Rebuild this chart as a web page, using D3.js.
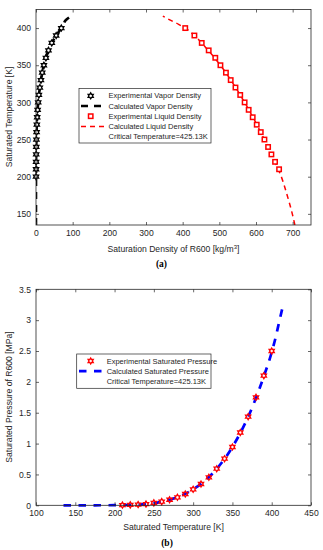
<!DOCTYPE html>
<html>
<head>
<meta charset="utf-8">
<script src="https://cdn.jsdelivr.net/npm/d3@7"></script>
<style>
  body { margin: 0; background: #fff; }
  svg { display: block; font-family: "Liberation Sans", Arial, sans-serif; }
</style>
</head>
<body>
<script>
const width = 323;
const height = 550;
const axisColor = "#262626";

// (a) saturation density
const vaporExpT = [200, 210, 220, 230, 240, 250, 260, 270, 280, 290, 300, 310, 320, 330, 340, 350, 360, 370, 380, 390, 400];
const vaporExpRho = [0.1, 0.2, 0.3, 0.5, 0.7, 1.1, 1.6, 2.3, 3.2, 4.4, 6.0, 7.9, 10.5, 13.5, 17, 21.5, 27, 34, 43, 55, 69];
const liquidExpT = [210, 220, 230, 240, 250, 260, 270, 280, 290, 300, 310, 320, 330, 340, 350, 360, 370, 380, 390, 400];
const liquidExpRho = [663, 652, 642, 633, 623, 613, 602, 591, 580, 569, 557, 544, 531, 518, 503, 489, 471, 452, 432, 407];
const calcT = [135, 150, 175, 200, 225, 250, 275, 300, 325, 350, 375, 390, 400, 405, 410, 416];
const vaporCalcRho = [0, 0, 0.02, 0.1, 0.4, 1.1, 2.5, 6.0, 12, 21.5, 38, 55, 69, 75, 80, 95];
const liquidCalcRho = [706, 699, 685, 669, 647, 623, 597, 569, 538, 503, 461, 432, 407, 389, 369, 346];
const densityTicks = [0, 100, 200, 300, 400, 500, 600, 700];
const tempTicksA = [150, 200, 250, 300, 350, 400];
const legendA = ["Experimental Vapor Density", "Calculated Vapor Density", "Experimental Liquid Density", "Calculated Liquid Density", "Critical Temperature=425.13K"];

// (b) saturated pressure
const presExpT = [210, 220, 230, 240, 250, 260, 270, 280, 290, 300, 310, 320, 330, 340, 350, 360, 370, 380, 390, 400];
const presExpP = [0.004, 0.007, 0.012, 0.02, 0.039, 0.06, 0.09, 0.13, 0.183, 0.259, 0.345, 0.454, 0.593, 0.755, 0.945, 1.18, 1.436, 1.75, 2.1, 2.5];
const presCalcT = [135, 150, 175, 200, 220, 240, 250, 260, 275, 300, 325, 350, 375, 390, 400, 405, 410, 415];
const presCalcP = [0, 0.0001, 0.0004, 0.002, 0.007, 0.02, 0.035, 0.058, 0.11, 0.258, 0.52, 0.945, 1.58, 2.09, 2.48, 2.72, 3.0, 3.27];
const tempTicksB = [100, 150, 200, 250, 300, 350, 400, 450];
const presTicks = [0, 0.5, 1, 1.5, 2, 2.5, 3, 3.5];
const legendB = ["Experimental Saturated Pressure", "Calculated Saturated Pressure", "Critical Temperature=425.13K"];

const svg = d3.select("body").append("svg")
  .attr("width", width)
  .attr("height", height);

// six-pointed star (MATLAB hexagram)
function hexagram(r) {
  const pts = [];
  for (let i = 0; i < 12; i++) {
    const a = -Math.PI / 2 + i * Math.PI / 6;
    const rr = i % 2 === 0 ? r : r / Math.sqrt(3);
    pts.push([rr * Math.cos(a), rr * Math.sin(a)]);
  }
  return "M" + pts.map(p => p[0].toFixed(2) + "," + p[1].toFixed(2)).join("L") + "Z";
}

function drawFrame(g, x, y, xTicks, yTicks, fmtX, fmtY) {
  const [x0, x1] = x.range();
  const [y0, y1] = y.range();
  g.append("g").attr("transform", `translate(0,${y0})`)
    .call(d3.axisBottom(x).tickValues(xTicks).tickSizeInner(-3).tickSizeOuter(0).tickPadding(5).tickFormat(fmtX));
  g.append("g").attr("transform", `translate(0,${y1})`)
    .call(d3.axisTop(x).tickValues(xTicks).tickSizeInner(-3).tickSizeOuter(0).tickFormat(""));
  g.append("g").attr("transform", `translate(${x0},0)`)
    .call(d3.axisLeft(y).tickValues(yTicks).tickSizeInner(-3).tickSizeOuter(0).tickPadding(5).tickFormat(fmtY));
  g.append("g").attr("transform", `translate(${x1},0)`)
    .call(d3.axisRight(y).tickValues(yTicks).tickSizeInner(-3).tickSizeOuter(0).tickFormat(""));
  g.selectAll(".domain").remove();
  g.selectAll(".tick line").attr("stroke", axisColor).attr("stroke-width", 0.7);
  g.selectAll(".tick text").attr("fill", axisColor).attr("font-size", 8.6)
    .attr("font-family", "Liberation Sans, Arial, sans-serif");
  g.append("rect")
    .attr("x", x0).attr("y", y1)
    .attr("width", x1 - x0).attr("height", y0 - y1)
    .attr("fill", "none").attr("stroke", axisColor).attr("stroke-width", 0.8);
}

// ---------- (a) ----------
const xA = d3.scaleLinear().domain([0, 750]).range([36, 311]);
const yA = d3.scaleLinear().domain([135, 425]).range([225, 9.5]);
const gA = svg.append("g");

const clipA = svg.append("clipPath").attr("id", "clipA")
  .append("rect").attr("x", 36).attr("y", 9.5).attr("width", 275).attr("height", 215.5);

const lineA = d3.line().x(d => xA(d[0])).y(d => yA(d[1])).curve(d3.curveMonotoneY);

gA.append("path")
  .datum(calcT.map((t, i) => [vaporCalcRho[i], t]))
  .attr("clip-path", "url(#clipA)")
  .attr("d", lineA)
  .attr("fill", "none").attr("stroke", "#000").attr("stroke-width", 2.6)
  .attr("stroke-dasharray", "7,6");

gA.append("path")
  .datum(calcT.map((t, i) => [liquidCalcRho[i], t]))
  .attr("clip-path", "url(#clipA)")
  .attr("d", lineA)
  .attr("fill", "none").attr("stroke", "#ff0000").attr("stroke-width", 1.5)
  .attr("stroke-dasharray", "5,4");

gA.selectAll(".vap")
  .data(vaporExpT)
  .enter()
  .append("path")
    .attr("class", "vap")
    .attr("transform", (t, i) => `translate(${xA(vaporExpRho[i])},${yA(t)})`)
    .attr("d", hexagram(3.0))
    .attr("fill", "#fff").attr("stroke", "#000").attr("stroke-width", 1.3);

gA.selectAll(".liq")
  .data(liquidExpT)
  .enter()
  .append("rect")
    .attr("class", "liq")
    .attr("x", (t, i) => xA(liquidExpRho[i]) - 2.2)
    .attr("y", t => yA(t) - 2.2)
    .attr("width", 4.4).attr("height", 4.4)
    .attr("fill", "#fff").attr("stroke", "#ff0000").attr("stroke-width", 1.5);

drawFrame(gA, xA, yA, densityTicks, tempTicksA, d3.format("d"), d3.format("d"));

// legend (a)
const legA = gA.append("g");
legA.append("rect").attr("x", 79).attr("y", 88.5).attr("width", 132).attr("height", 54.5)
  .attr("fill", "#fff").attr("stroke", axisColor).attr("stroke-width", 0.7);
legendA.forEach(function (label, i) {
  const cy = 95.8 + i * 10.2;
  legA.append("text").attr("x", 108.5).attr("y", cy).attr("dy", "0.35em")
    .attr("font-size", 7.5).attr("fill", axisColor).text(label);
  if (i === 0) {
    legA.append("path").attr("transform", `translate(90.7,${cy})`).attr("d", hexagram(3.0))
      .attr("fill", "#fff").attr("stroke", "#000").attr("stroke-width", 1.3);
  } else if (i === 1) {
    legA.append("line").attr("x1", 81).attr("x2", 106).attr("y1", cy).attr("y2", cy)
      .attr("stroke", "#000").attr("stroke-width", 2.6).attr("stroke-dasharray", "7,6");
  } else if (i === 2) {
    legA.append("rect").attr("x", 88.5).attr("y", cy - 2.2).attr("width", 4.4).attr("height", 4.4)
      .attr("fill", "#fff").attr("stroke", "#ff0000").attr("stroke-width", 1.5);
  } else if (i === 3) {
    legA.append("line").attr("x1", 81).attr("x2", 106).attr("y1", cy).attr("y2", cy)
      .attr("stroke", "#ff0000").attr("stroke-width", 1.5).attr("stroke-dasharray", "5,4");
  }
});

// axis labels (a)
const labA = svg.append("text").attr("x", 173.5).attr("y", 252)
  .attr("text-anchor", "middle").attr("font-size", 8.6).attr("fill", axisColor);
labA.append("tspan").text("Saturation Density of R600 [kg/m");
labA.append("tspan").attr("font-size", 6).attr("dy", -3.5).text("3");
labA.append("tspan").attr("dy", 3.5).text("]");

svg.append("text").attr("transform", "translate(12,117) rotate(-90)")
  .attr("text-anchor", "middle").attr("font-size", 8.6).attr("fill", axisColor)
  .text("Saturated Temperature [K]");

svg.append("text").attr("x", 161.5).attr("y", 267).attr("text-anchor", "middle")
  .attr("font-family", "Liberation Serif, Times New Roman, serif").attr("font-weight", "bold")
  .attr("font-size", 9.5).attr("fill", "#000").text("(a)");

// ---------- (b) ----------
const xB = d3.scaleLinear().domain([100, 450]).range([36, 311]);
const yB = d3.scaleLinear().domain([0, 3.5]).range([505.3, 289.3]);
const gB = svg.append("g");

gB.append("path")
  .datum(presCalcT.map((t, i) => [t, presCalcP[i]]))
  .attr("d", d3.line().x(d => xB(d[0])).y(d => yB(d[1])).curve(d3.curveMonotoneX))
  .attr("fill", "none").attr("stroke", "#0000ff").attr("stroke-width", 2.7)
  .attr("stroke-dasharray", "7.5,7.5");

gB.selectAll(".pres")
  .data(presExpT)
  .enter()
  .append("path")
    .attr("class", "pres")
    .attr("transform", (t, i) => `translate(${xB(t)},${yB(presExpP[i])})`)
    .attr("d", hexagram(3.0))
    .attr("fill", "none").attr("stroke", "#ff0000").attr("stroke-width", 1.3);

drawFrame(gB, xB, yB, tempTicksB, presTicks, d3.format("d"), d3.format("~g"));

// legend (b)
const legB = gB.append("g");
legB.append("rect").attr("x", 76.7).attr("y", 354).attr("width", 134.3).attr("height", 34.3)
  .attr("fill", "#fff").attr("stroke", axisColor).attr("stroke-width", 0.7);
legendB.forEach(function (label, i) {
  const cy = 361 + i * 10.2;
  legB.append("text").attr("x", 106.7).attr("y", cy).attr("dy", "0.35em")
    .attr("font-size", 7.5).attr("fill", axisColor).text(label);
  if (i === 0) {
    legB.append("path").attr("transform", `translate(90.7,${cy})`).attr("d", hexagram(3.0))
      .attr("fill", "none").attr("stroke", "#ff0000").attr("stroke-width", 1.3);
  } else if (i === 1) {
    legB.append("line").attr("x1", 79).attr("x2", 103).attr("y1", cy).attr("y2", cy)
      .attr("stroke", "#0000ff").attr("stroke-width", 2.7).attr("stroke-dasharray", "7.5,7.5");
  }
});

svg.append("text").attr("x", 173.5).attr("y", 530)
  .attr("text-anchor", "middle").attr("font-size", 8.6).attr("fill", axisColor)
  .text("Saturated Temperature [K]");

svg.append("text").attr("transform", "translate(12,397) rotate(-90)")
  .attr("text-anchor", "middle").attr("font-size", 8.6).attr("fill", axisColor)
  .text("Saturated Pressure of R600 [MPa]");

svg.append("text").attr("x", 167).attr("y", 546).attr("text-anchor", "middle")
  .attr("font-family", "Liberation Serif, Times New Roman, serif").attr("font-weight", "bold")
  .attr("font-size", 9.5).attr("fill", "#000").text("(b)");
</script>
</body>
</html>
